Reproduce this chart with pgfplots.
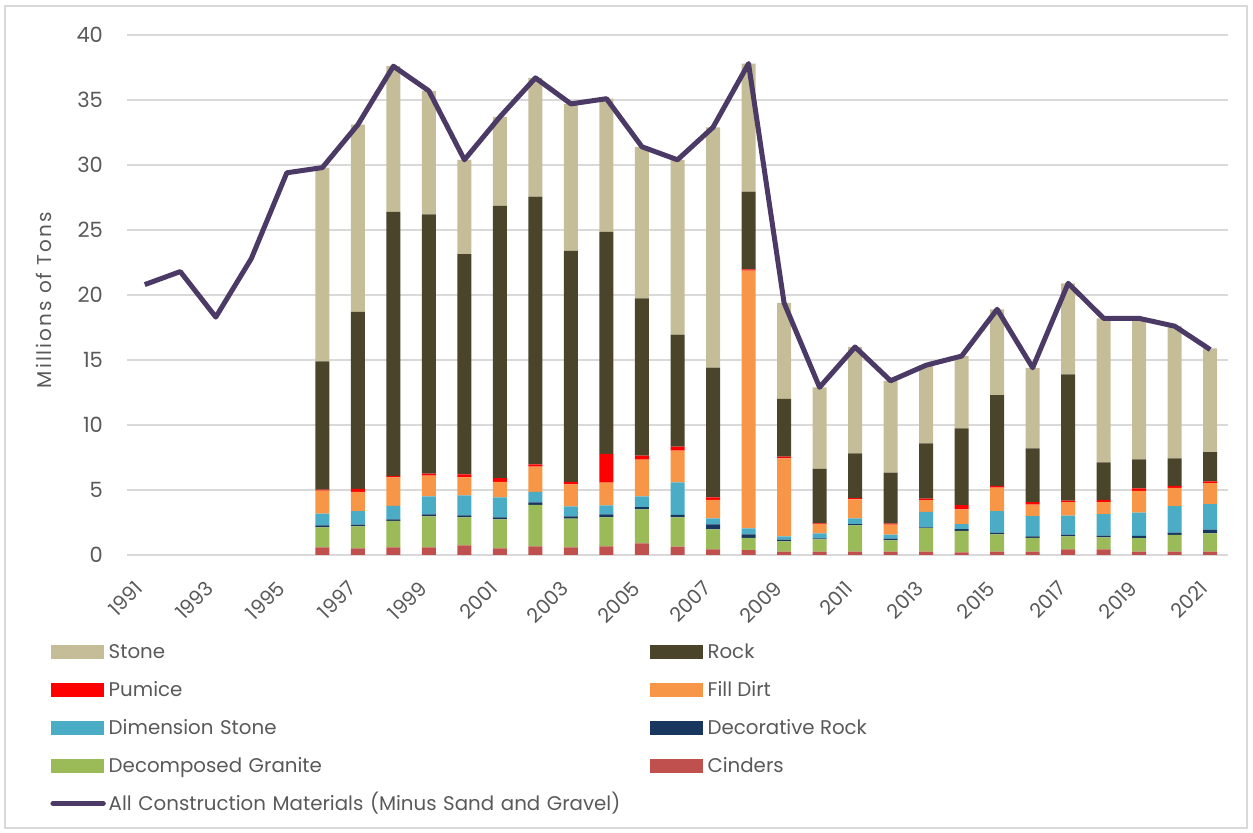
\documentclass[border=0pt]{standalone}
\usepackage{pgfplots}
\pgfplotsset{compat=1.18}
\usepackage{pgfplotstable}
\usepackage{fontspec}
\setmainfont{Poppins}

\definecolor{stonec}{HTML}{C4BD97}
\definecolor{rockc}{HTML}{4A452A}
\definecolor{pumc}{HTML}{FF0000}
\definecolor{fillc}{HTML}{F79646}
\definecolor{dimc}{HTML}{4BACC6}
\definecolor{decoc}{HTML}{17375E}
\definecolor{granc}{HTML}{9BBB59}
\definecolor{cindc}{HTML}{C0504D}
\definecolor{linec}{HTML}{4C3A66}
\definecolor{gridc}{HTML}{D9D9D9}
\definecolor{txt}{HTML}{595959}

\pgfplotstableread{
year cind gran deco dim fill pum rock stone
1996 0.59 1.54 0.15 0.90 1.77 0.08 9.87 14.90
1997 0.51 1.69 0.13 1.05 1.47 0.23 13.62 14.40
1998 0.59 2.03 0.12 1.03 2.20 0.11 20.32 11.20
1999 0.59 2.38 0.16 1.38 1.59 0.16 19.94 9.50
2000 0.74 2.16 0.15 1.54 1.38 0.23 16.95 7.25
2001 0.51 2.23 0.16 1.54 1.18 0.30 20.93 6.85
2002 0.67 3.18 0.20 0.80 1.94 0.18 20.59 9.14
2003 0.59 2.20 0.18 0.77 1.70 0.18 17.78 11.30
2004 0.67 2.23 0.23 0.69 1.74 2.21 17.08 10.25
2005 0.90 2.61 0.18 0.82 2.82 0.31 12.10 11.66
2006 0.64 2.26 0.18 2.51 2.44 0.30 8.62 13.45
2007 0.44 1.53 0.39 0.46 1.41 0.21 9.97 18.49
2008 0.38 0.93 0.28 0.46 19.82 0.10 5.98 9.85
2009 0.26 0.79 0.13 0.26 6.00 0.12 4.44 7.40
2010 0.26 0.94 0.08 0.39 0.71 0.06 4.18 6.28
2011 0.26 2.02 0.10 0.44 1.46 0.10 3.44 8.18
2012 0.26 0.87 0.13 0.30 0.77 0.08 3.92 7.07
2013 0.26 1.80 0.07 1.19 0.90 0.12 4.25 6.01
2014 0.21 1.64 0.13 0.39 1.13 0.33 5.91 5.56
2015 0.26 1.33 0.13 1.65 1.82 0.13 6.98 6.60
2016 0.26 1.05 0.13 1.54 0.90 0.18 4.14 6.20
2017 0.44 1.00 0.13 1.46 1.03 0.13 9.71 7.00
2018 0.44 0.92 0.13 1.65 0.92 0.18 2.88 11.08
2019 0.26 1.03 0.18 1.79 1.68 0.18 2.23 10.85
2020 0.26 1.28 0.18 2.03 1.42 0.15 2.11 10.17
2021 0.26 1.41 0.28 1.96 1.62 0.13 2.26 7.98
}\bars

\pgfplotstableread{
year total
1991 20.8
1992 21.8
1993 18.3
1994 22.8
1995 29.4
1996 29.8
1997 33.1
1998 37.6
1999 35.7
2000 30.4
2001 33.7
2002 36.7
2003 34.7
2004 35.1
2005 31.4
2006 30.4
2007 32.9
2008 37.8
2009 19.4
2010 12.9
2011 16.0
2012 13.4
2013 14.6
2014 15.3
2015 18.9
2016 14.4
2017 20.9
2018 18.2
2019 18.2
2020 17.6
2021 15.8
}\total

\pgfplotsset{
  sw/.style={legend image code/.code={\fill[#1] (0pt,-3.2pt) rectangle (26pt,3.2pt); \path (28.5pt,0pt);}},
  lw/.style={legend image code/.code={\draw[linec, line width=2.5pt, line cap=round] (0.8pt,0pt) -- (26pt,0pt); \path (28.5pt,0pt);}},
}

\begin{document}
\begin{tikzpicture}[x=0.5pt,y=0.5pt]
\useasboundingbox (0,0) rectangle (1253,833);
\draw[gridc, line width=0.75pt] (5,5) rectangle (1247,827);
\begin{axis}[
  at={(63.5pt,139pt)}, anchor=south west,
  width=550.5pt, height=260pt, scale only axis,
  xmin=1990.5, xmax=2021.5, ymin=0, ymax=40,
  ybar stacked, bar width=7pt,
  ytick={0,5,...,40},
  xtick={1991,1993,...,2021},
  ymajorgrids, grid style={gridc, line width=0.75pt},
  axis line style={draw=none},
  major tick length=0pt,
  tick label style={font=\fontsize{10.5}{12}\selectfont, text=txt},
  /pgf/number format/assume math mode=true,
  /pgf/number format/1000 sep={},
  xticklabel style={font=\fontsize{10}{12}\selectfont, xshift=-0.5pt, yshift=-12.5pt, rotate=45, anchor=east},
  yticklabel style={xshift=-8.5pt},
  ylabel={Millions of Tons},
  ylabel style={at={(axis description cs:-0.075,0.49)}, anchor=center, font=\fontsize{10}{12}\selectfont\addfontfeatures{LetterSpace=10}, text=txt},
]
\addplot[fill=cindc, draw=none] table[x=year,y=cind]{\bars};
\addplot[fill=granc, draw=none] table[x=year,y=gran]{\bars};
\addplot[fill=decoc, draw=none] table[x=year,y=deco]{\bars};
\addplot[fill=dimc, draw=none] table[x=year,y=dim]{\bars};
\addplot[fill=fillc, draw=none] table[x=year,y=fill]{\bars};
\addplot[fill=pumc, draw=none] table[x=year,y=pum]{\bars};
\addplot[fill=rockc, draw=none] table[x=year,y=rock]{\bars};
\addplot[fill=stonec, draw=none] table[x=year,y=stone]{\bars};
\end{axis}
\begin{axis}[
  at={(63.5pt,139pt)}, anchor=south west,
  width=550.5pt, height=260pt, scale only axis,
  xmin=1990.5, xmax=2021.5, ymin=0, ymax=40,
  hide axis, clip=false,
  legend columns=2,
  legend cell align=left,
  legend style={at={(axis description cs:-0.0699,-0.1673)}, anchor=north west,
    draw=none, fill=none, inner sep=0pt, row sep=9.8pt,
    font=\fontsize{9.9}{11}\selectfont, text=txt,
    nodes={inner xsep=0pt, inner ysep=0pt, text height=8pt, text depth=1.2pt},
    /tikz/column 2/.style={text width=270.5pt}},
]
\addplot[linec, line width=2.5pt, line join=round, forget plot] table[x=year,y=total]{\total};
\addlegendimage{sw=stonec}\addlegendentry{Stone}
\addlegendimage{sw=rockc}\addlegendentry{Rock}
\addlegendimage{sw=pumc}\addlegendentry{Pumice}
\addlegendimage{sw=fillc}\addlegendentry{Fill Dirt}
\addlegendimage{sw=dimc}\addlegendentry{Dimension Stone}
\addlegendimage{sw=decoc}\addlegendentry{Decorative Rock}
\addlegendimage{sw=granc}\addlegendentry{Decomposed Granite}
\addlegendimage{sw=cindc}\addlegendentry{Cinders}
\addlegendimage{lw}\addlegendentry{All Construction Materials (Minus Sand and Gravel)}
\end{axis}
\end{tikzpicture}
\end{document}
